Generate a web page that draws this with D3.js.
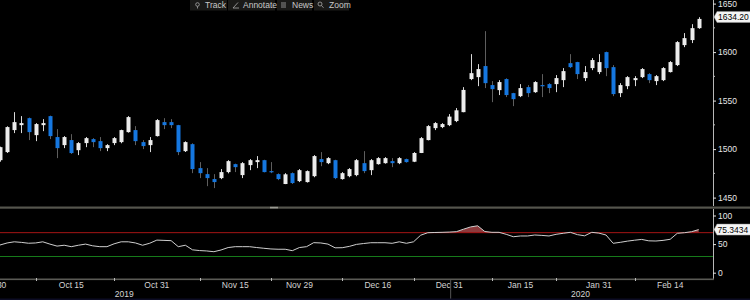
<!DOCTYPE html>
<html><head><meta charset="utf-8">
<script src="https://cdn.jsdelivr.net/npm/d3@7"></script>
<style>
html,body{margin:0;padding:0;background:#000;}
svg{display:block;font-family:"Liberation Sans",Arial,sans-serif;}
</style></head>
<body>
<svg id="c" width="750" height="300"></svg>
<script>
// ---- DATA ----
const dates = ["2019-09-30","2019-10-01","2019-10-02","2019-10-03","2019-10-04","2019-10-07","2019-10-08","2019-10-09","2019-10-10","2019-10-11",
"2019-10-14","2019-10-15","2019-10-16","2019-10-17","2019-10-18","2019-10-21","2019-10-22","2019-10-23","2019-10-24","2019-10-25",
"2019-10-28","2019-10-29","2019-10-30","2019-10-31","2019-11-01","2019-11-04","2019-11-05","2019-11-06","2019-11-07","2019-11-08",
"2019-11-11","2019-11-12","2019-11-13","2019-11-14","2019-11-15","2019-11-18","2019-11-19","2019-11-20","2019-11-21","2019-11-22",
"2019-11-25","2019-11-26","2019-11-27","2019-11-29","2019-12-02","2019-12-03","2019-12-04","2019-12-05","2019-12-06","2019-12-09",
"2019-12-10","2019-12-11","2019-12-12","2019-12-13","2019-12-16","2019-12-17","2019-12-18","2019-12-19","2019-12-20","2019-12-23",
"2019-12-24","2019-12-26","2019-12-27","2019-12-30","2019-12-31","2020-01-02","2020-01-03","2020-01-06","2020-01-07","2020-01-08",
"2020-01-09","2020-01-10","2020-01-13","2020-01-14","2020-01-15","2020-01-16","2020-01-17","2020-01-21","2020-01-22","2020-01-23",
"2020-01-24","2020-01-27","2020-01-28","2020-01-29","2020-01-30","2020-01-31","2020-02-03","2020-02-04","2020-02-05","2020-02-06",
"2020-02-07","2020-02-10","2020-02-11","2020-02-12","2020-02-13","2020-02-14","2020-02-18","2020-02-19","2020-02-20","2020-02-21"];

const open = [null,1488.6,1496.9,1519.6,1524.7,1531.9,1514.4,1524.7,1534.0,1512.4,1504.1,1509.3,1498.9,1506.2,1510.3,1508.2,1501.0,1506.2,1507.2,1517.5,1519.6,1507.2,1504.1,1513.4,1527.8,1527.8,1524.7,1497.9,1505.1,1480.4,1474.2,1469.1,1470.1,1476.3,1484.5,1473.2,1483.5,1486.6,1488.6,1477.3,1474.2,1464.0,1475.2,1467.0,1466.0,1472.1,1489.7,1485.5,1488.6,1469.1,1472.1,1473.2,1485.5,1478.3,1484.5,1485.5,1487.6,1485.5,1489.7,1487.0,1496.0,1509.3,1521.6,1522.7,1524.7,1528.9,1538.1,1572.2,1574.2,1585.6,1566.0,1560.8,1572.2,1557.7,1554.6,1563.9,1558.7,1566.0,1567.0,1567.0,1571.1,1588.6,1589.7,1573.2,1583.5,1579.4,1600.0,1584.5,1557.7,1564.9,1571.1,1574.2,1577.3,1570.1,1571.1,1579.4,1586.6,1607.2,1612.4,1624.7];
const high = [null,1502.5,1523.5,1538.1,1534.0,1532.5,1526.8,1530.9,1534.5,1520.6,1513.4,1515.4,1507.2,1512.4,1511.3,1512.4,1505.1,1512.4,1520.0,1534.0,1523.7,1509.3,1512.4,1530.9,1531.9,1530.9,1525.0,1508.0,1506.0,1486.6,1480.4,1474.2,1479.4,1488.6,1485.0,1486.6,1489.7,1492.8,1489.0,1486.6,1475.0,1475.2,1476.0,1479.4,1478.0,1493.8,1496.9,1491.7,1489.0,1476.3,1480.4,1489.7,1497.9,1489.7,1491.7,1491.7,1490.7,1491.7,1490.2,1496.9,1512.4,1524.7,1527.8,1526.8,1536.1,1542.3,1563.9,1597.9,1587.6,1621.6,1570.1,1571.1,1573.0,1558.0,1567.0,1566.0,1570.0,1577.3,1568.0,1576.3,1583.5,1597.9,1590.0,1585.6,1593.8,1597.9,1600.5,1586.6,1568.0,1575.2,1575.2,1583.5,1578.3,1576.3,1584.5,1590.7,1611.3,1619.6,1628.8,1636.0];
const low = [null,1487.0,1496.0,1516.5,1516.5,1509.3,1508.2,1518.5,1510.3,1490.7,1501.0,1495.0,1493.8,1502.0,1502.0,1497.9,1497.9,1504.1,1506.0,1517.0,1504.1,1500.0,1496.9,1513.0,1520.6,1521.6,1493.8,1497.0,1475.2,1470.1,1461.8,1459.8,1469.0,1475.0,1476.3,1470.1,1478.3,1480.4,1476.0,1475.2,1468.0,1463.9,1464.0,1466.0,1465.5,1471.0,1482.4,1484.5,1469.0,1468.5,1471.0,1472.0,1475.2,1473.2,1484.0,1485.0,1481.4,1484.5,1486.0,1486.6,1495.9,1509.0,1519.6,1521.6,1523.7,1527.8,1538.0,1571.1,1564.9,1562.9,1548.4,1555.7,1553.6,1544.3,1553.6,1553.6,1558.0,1553.6,1557.7,1558.7,1563.9,1583.5,1572.2,1570.1,1581.4,1577.3,1575.2,1554.6,1553.6,1561.8,1564.9,1573.2,1568.0,1566.0,1570.1,1579.0,1585.6,1605.1,1609.3,1624.0];
const close = [null,1502.0,1522.7,1527.8,1526.8,1517.5,1525.8,1526.8,1513.4,1501.0,1512.4,1495.9,1506.2,1511.3,1507.2,1501.0,1504.1,1511.3,1519.6,1533.0,1508.2,1503.1,1509.3,1529.9,1524.7,1524.7,1496.9,1507.2,1479.4,1475.2,1470.1,1466.0,1476.3,1487.6,1481.4,1485.5,1488.6,1488.6,1476.3,1476.3,1469.1,1474.0,1465.0,1478.3,1477.3,1492.8,1486.6,1490.7,1470.1,1475.2,1479.4,1488.6,1477.3,1488.6,1490.7,1490.7,1485.5,1490.7,1486.6,1496.0,1511.3,1523.7,1526.8,1525.8,1533.5,1540.0,1561.0,1578.3,1582.5,1568.0,1561.8,1569.1,1555.7,1551.5,1562.9,1557.7,1569.1,1564.9,1562.9,1573.2,1580.4,1584.5,1577.3,1579.4,1591.8,1589.7,1583.5,1556.7,1566.0,1574.2,1573.2,1582.5,1571.1,1575.2,1583.5,1589.7,1610.3,1614.4,1624.7,1634.2];
const rsi = [47,48.4,52,54,53,51.5,52,54,50,46.5,
48,45.5,48,50,47,45.5,45.5,50.5,54,54,
52,48,51.5,57,56.5,56,45.5,48,40,38.7,
38,36.7,39.7,44,45.5,45.5,45.5,44,42.7,41.5,
41,41,38.5,44,45.5,52.5,52,50,43.5,43.7,
46,49.5,51,52.4,52.4,52.4,51.4,54,51.4,54,
65.5,69.9,70.3,70.6,71,71.7,76,80,82,72,
70.6,70.6,67.1,62.9,64.2,64.2,65.9,65.2,64.2,67.1,
68.9,70.6,66.5,64.5,70.6,69.2,65.9,51.4,53.1,55.2,
56.8,58.2,55.7,55.4,56.5,58.4,68.9,69.9,71.7,75.34];

const priceTicks = [1450,1500,1550,1600,1650];
const priceMinor = [1475,1525,1575,1625];
const rsiTicks = [0,50,100];
const rsiLevels = {upper:70, lower:30};
const labelDates = ["2019-09-30","2019-10-15","2019-10-31","2019-11-15","2019-11-29","2019-12-16","2019-12-31","2020-01-15","2020-01-31","2020-02-14"];
const minorTickDates = ["2019-10-08","2019-10-23","2019-11-08","2019-11-22","2019-12-09","2019-12-23","2020-01-09","2020-01-23","2020-02-07"];
const yearLabels = [{text:"2019", date:"2019-10-24"},{text:"2020", date:"2020-01-28"}];
const yearBreakDate = "2019-12-31";
const lastPrice = 1634.20;
const lastRsi = 75.3434;
const toolbar = ["Track","Annotate","News","Zoom"];

// ---- CHART ----
const svg = d3.select("#c");
svg.append("rect").attr("width",750).attr("height",300).attr("fill","#000");

const axisX = 713;
const x = d3.scalePoint().domain(dates).range([-7.13, 698.7]);
const y = d3.scaleLinear().domain([1450,1650]).range([197.6,3.6]);
const yr = d3.scaleLinear().domain([0,100]).range([272.7,215.5]);

const candles = dates.map((d,i)=>({date:d,o:open[i],h:high[i],l:low[i],c:close[i]})).filter(d=>d.o!=null);
const blue = "#1577e0";

svg.append("clipPath").attr("id","pc").append("rect").attr("x",0).attr("y",0).attr("width",axisX).attr("height",206);
svg.append("clipPath").attr("id","rc").append("rect").attr("x",0).attr("y",209).attr("width",axisX).attr("height",69);

const cg = svg.append("g").attr("clip-path","url(#pc)");
const cand = cg.selectAll("g.cd").data(candles).join("g").attr("class","cd");
cand.append("line")
  .attr("x1",d=>Math.round(x(d.date))+0.5).attr("x2",d=>Math.round(x(d.date))+0.5)
  .attr("y1",d=>y(d.h)).attr("y2",d=>y(d.l))
  .attr("stroke",d=>d.c>=d.o?"#d8d8d8":"#5e5e5e").attr("stroke-width",1);
cand.append("rect")
  .attr("x",d=>Math.round(x(d.date))-1.5).attr("width",4)
  .attr("y",d=>y(Math.max(d.o,d.c)))
  .attr("height",d=>Math.max(1.2,Math.abs(y(d.o)-y(d.c))))
  .attr("fill",d=>d.c>=d.o?"#ececec":blue);

// right axis main
svg.append("line").attr("x1",axisX+0.5).attr("x2",axisX+0.5).attr("y1",0).attr("y2",206).attr("stroke","#b8b8b8");
const ay = svg.append("g").attr("transform",`translate(${axisX},0)`)
  .call(d3.axisRight(y).tickValues(priceTicks).tickSize(3).tickPadding(2).tickFormat(d3.format("d")));
ay.select(".domain").remove();
ay.selectAll(".tick line").attr("stroke","#e0e0e0");
ay.selectAll(".tick text").attr("fill","#e6e6e6").attr("font-size",8.5).attr("font-family","Liberation Sans, Arial, sans-serif");
svg.append("g").selectAll("line").data(priceMinor).join("line")
  .attr("x1",axisX).attr("x2",axisX+2).attr("y1",d=>y(d)).attr("y2",d=>y(d)).attr("stroke","#bbb");

// last price tag
const lp = svg.append("g").attr("transform",`translate(${axisX},${y(lastPrice)-2})`);
lp.append("path").attr("d","M1,0 L4,-5.5 L40,-5.5 L40,5.5 L4,5.5 Z").attr("fill","#f4f4f4").attr("stroke","#999").attr("stroke-width",0.5);
lp.append("text").attr("x",5).attr("y",3).attr("font-size",8.5).attr("fill","#000").text(d3.format(".2f")(lastPrice));

// divider
svg.append("rect").attr("x",0).attr("y",206.5).attr("width",750).attr("height",2.2).attr("fill","#55554d");
svg.append("rect").attr("x",270).attr("y",206.8).attr("width",8).attr("height",1.6).attr("fill","#9a9a92");

// RSI panel
const rg = svg.append("g").attr("clip-path","url(#rc)");
const area = d3.area().x((d,i)=>x(dates[i])).y0(yr(rsiLevels.upper)).y1(d=>yr(Math.max(d,rsiLevels.upper)));
rg.append("path").datum(rsi).attr("d",area).attr("fill","#8c3a3c");
rg.append("line").attr("x1",0).attr("x2",axisX).attr("y1",yr(rsiLevels.upper)).attr("y2",yr(rsiLevels.upper)).attr("stroke","#a51515").attr("stroke-width",1);
rg.append("line").attr("x1",0).attr("x2",axisX).attr("y1",Math.round(yr(rsiLevels.lower))+0.5).attr("y2",Math.round(yr(rsiLevels.lower))+0.5).attr("stroke","#167a1a").attr("stroke-width",1);
const line = d3.line().x((d,i)=>x(dates[i])).y(d=>yr(d));
rg.append("path").datum(rsi).attr("d",line).attr("fill","none").attr("stroke","#cfcfcf").attr("stroke-width",1);

svg.append("line").attr("x1",axisX+0.5).attr("x2",axisX+0.5).attr("y1",209).attr("y2",279).attr("stroke","#b8b8b8");
const ar = svg.append("g").attr("transform",`translate(${axisX},0)`)
  .call(d3.axisRight(yr).tickValues(rsiTicks).tickSize(3).tickPadding(2));
ar.select(".domain").remove();
ar.selectAll(".tick line").attr("stroke","#e0e0e0");
ar.selectAll(".tick text").attr("fill","#e6e6e6").attr("font-size",8.5).attr("font-family","Liberation Sans, Arial, sans-serif");

const lr = svg.append("g").attr("transform",`translate(${axisX},${yr(lastRsi)})`);
lr.append("path").attr("d","M1,0 L4,-5.5 L40,-5.5 L40,5.5 L4,5.5 Z").attr("fill","#f4f4f4").attr("stroke","#999").attr("stroke-width",0.5);
lr.append("text").attr("x",4.5).attr("y",3).attr("font-size",8.5).attr("fill","#000").text(d3.format(".4f")(lastRsi));

// bottom time axis
svg.append("rect").attr("x",0).attr("y",278.5).attr("width",axisX+1).attr("height",1.6).attr("fill","#5a5a55");
svg.append("g").selectAll("line").data(minorTickDates).join("line")
  .attr("x1",d=>Math.round(x(d))+0.5).attr("x2",d=>Math.round(x(d))+0.5).attr("y1",278).attr("y2",281).attr("stroke","#bbb");
const fmt = d3.timeFormat("%b %-d"), parse = d3.timeParse("%Y-%m-%d");
svg.append("g").selectAll("text").data(labelDates).join("text")
  .attr("x",d=>x(d)).attr("y",288).attr("text-anchor","middle")
  .attr("font-size",8.5).attr("fill","#d4d4d4").text(d=>fmt(parse(d)));
svg.append("line").attr("x1",x(yearBreakDate)+1.5).attr("x2",x(yearBreakDate)+1.5).attr("y1",280).attr("y2",299).attr("stroke","#555");
svg.append("g").selectAll("text").data(yearLabels).join("text")
  .attr("x",d=>x(d.date)+3).attr("y",297).attr("text-anchor","middle")
  .attr("font-size",8.5).attr("fill","#d4d4d4").text(d=>d.text);
svg.append("rect").attr("x",0).attr("y",298.5).attr("width",750).attr("height",1.5).attr("fill","#0c0c24");

// toolbar
const tb = svg.append("g");
const boxes = [[190,227],[228,275],[277,312],[314,349]];
const tx = [205,243,292,329];
toolbar.forEach((t,i)=>{
  tb.append("rect").attr("x",boxes[i][0]).attr("y",0).attr("width",boxes[i][1]-boxes[i][0]).attr("height",10.5).attr("fill","#1a1a18");
  tb.append("text").attr("x",tx[i]).attr("y",8).attr("font-size",8.5).attr("fill","#c9c9c9").text(t);
});
tb.append("circle").attr("cx",197.5).attr("cy",4.5).attr("r",1.8).attr("fill","none").attr("stroke","#aaa").attr("stroke-width",0.8);
tb.append("line").attr("x1",197.5).attr("x2",197.5).attr("y1",6.3).attr("y2",8.5).attr("stroke","#aaa").attr("stroke-width",0.8);
tb.append("path").attr("d","M233,8 L239,8 M233,8 L238,2.5").attr("stroke","#aaa").attr("stroke-width",0.8).attr("fill","none");
tb.append("path").attr("d","M281,3 L286,3 M281,5 L286,5 M281,7 L286,7").attr("stroke","#aaa").attr("stroke-width",0.8);
tb.append("circle").attr("cx",320).attr("cy",4).attr("r",2).attr("fill","none").attr("stroke","#aaa").attr("stroke-width",0.8);
tb.append("line").attr("x1",321.5).attr("x2",323.5).attr("y1",5.5).attr("y2",7.8).attr("stroke","#aaa").attr("stroke-width",0.8);
</script>
</body></html>
